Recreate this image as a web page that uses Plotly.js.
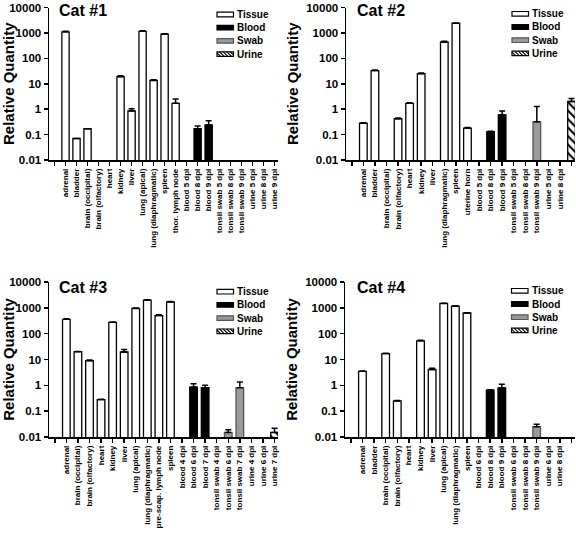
<!DOCTYPE html>
<html><head><meta charset="utf-8">
<script src="https://cdn.plot.ly/plotly-3.0.1.min.js"></script>
<style>html,body{margin:0;padding:0;background:#fff}</style>
</head><body><div id="chart" style="width:576px;height:542px"></div>
<script>
// ---------- DATA ----------
const cat1Labels = ['adrenal','bladder','brain (occipital)','brain (olfactory)','heart','kidney','liver','lung (apical)','lung (diaphragmatic)','spleen','thor. lymph node','blood 5 dpi','blood 8 dpi','blood 9 dpi','tonsil swab 5 dpi','tonsil swab 8 dpi','tonsil swab 9 dpi','urine 5 dpi','urine 8 dpi','urine 9 dpi'];
const cat1Tissue = [1100, 0.07, 0.17, null, null, 19, 0.85, 1150, 13.5, 900, 1.7];
const cat1TissueErr = [50, 0, 0, null, null, 1.5, 0.2, 80, 1, 30, 0.8];
const cat1Blood = [null, 0.17, 0.24];
const cat1BloodErr = [null, 0.05, 0.11];
const cat1Swab = [null, null, null];
const cat1SwabErr = [null, null, null];
const cat1Urine = [null, null, null];
const cat1UrineErr = [null, null, null];

const cat2Labels = ['adrenal','bladder','brain (occipital)','brain (olfactory)','heart','kidney','liver','lung (diaphragmatic)','spleen','uterine horn','blood 5 dpi','blood 8 dpi','blood 9 dpi','tonsil swab 5 dpi','tonsil swab 8 dpi','tonsil swab 9 dpi','urine 5 dpi','urine 8 dpi','urine 9 dpi'];
const cat2Tissue = [0.28, 33, null, 0.42, 1.7, 25, null, 440, 2400, 0.18];
const cat2TissueErr = [0.01, 2, null, 0.03, 0.08, 1.5, null, 30, 50, 0.01];
const cat2Blood = [null, 0.13, 0.6];
const cat2BloodErr = [null, 0.005, 0.25];
const cat2Swab = [null, null, 0.32];
const cat2SwabErr = [null, null, 0.95];
const cat2Urine = [null, null, 2.0];
const cat2UrineErr = [null, null, 0.6];

const cat3Labels = ['adrenal','brain (occipital)','brain (olfactory)','heart','kidney','liver','lung (apical)','lung (diaphragmatic)','pre-scap. lymph node','spleen','blood 4 dpi','blood 6 dpi','blood 7 dpi','tonsil swab 4 dpi','tonsil swab 6 dpi','tonsil swab 7 dpi','urine 4 dpi','urine 6 dpi','urine 7 dpi'];
const cat3Tissue = [360, 20, 9, 0.28, 275, 19.5, 950, 2000, 500, 1700];
const cat3TissueErr = [15, 0.5, 0.5, 0.01, 10, 5, 30, 50, 40, 40];
const cat3Blood = [null, 0.86, 0.81];
const cat3BloodErr = [null, 0.29, 0.2];
const cat3Swab = [null, 0.015, 0.81];
const cat3SwabErr = [null, 0.004, 0.53];
const cat3Urine = [null, null, 0.015];
const cat3UrineErr = [null, null, 0.007];

const cat4Labels = ['adrenal','bladder','brain (occipital)','brain (olfactory)','heart','kidney','liver','lung (apical)','lung (diaphragmatic)','spleen','blood 6 dpi','blood 8 dpi','blood 9 dpi','tonsil swab 6 dpi','tonsil swab 8 dpi','tonsil swab 9 dpi','urine 6 dpi','urine 8 dpi','urine 9 dpi'];
const cat4Tissue = [3.5, null, 17, 0.25, null, 53, 4.1, 1480, 1160, 630];
const cat4TissueErr = [0.1, null, 0.5, 0.01, null, 2, 0.5, 40, 40, 20];
const cat4Blood = [null, 0.65, 0.79];
const cat4BloodErr = [null, 0.02, 0.3];
const cat4Swab = [null, null, 0.025];
const cat4SwabErr = [null, null, 0.006];
const cat4Urine = [null, null, null];
const cat4UrineErr = [null, null, null];

const panelTitles = ['Cat #1', 'Cat #2', 'Cat #3', 'Cat #4'];
const seriesNames = ['Tissue', 'Blood', 'Swab', 'Urine'];
const yTickVals = [0.01, 0.1, 1, 10, 100, 1000, 10000];
const yTickText = ['0.01', '0.1', '1', '10', '100', '1000', '10000'];

// ---------- STYLE / LAYOUT ----------
const W = 576, H = 542;
const FONT = 'Arial, "Liberation Sans", Helvetica, sans-serif';
const panels = [
  {labels: cat1Labels, groups: [[cat1Tissue, cat1TissueErr],[cat1Blood, cat1BloodErr],[cat1Swab, cat1SwabErr],[cat1Urine, cat1UrineErr]],
   px: [49, 278], py: [7.5, 160], title: [83, 11], leg: [217, 14.5]},
  {labels: cat2Labels, groups: [[cat2Tissue, cat2TissueErr],[cat2Blood, cat2BloodErr],[cat2Swab, cat2SwabErr],[cat2Urine, cat2UrineErr]],
   px: [346, 575], py: [7.5, 160], title: [381, 11], leg: [512, 13.8]},
  {labels: cat3Labels, groups: [[cat3Tissue, cat3TissueErr],[cat3Blood, cat3BloodErr],[cat3Swab, cat3SwabErr],[cat3Urine, cat3UrineErr]],
   px: [49, 278], py: [282, 437], title: [83, 287], leg: [217, 291.7]},
  {labels: cat4Labels, groups: [[cat4Tissue, cat4TissueErr],[cat4Blood, cat4BloodErr],[cat4Swab, cat4SwabErr],[cat4Urine, cat4UrineErr]],
   px: [345, 575], py: [282, 437], title: [381, 287], leg: [511.5, 290.8]}
];

const fillColors = ['#ffffff', '#000000', '#9a9a9a', '#ffffff'];
const lineColors = ['#000000', '#000000', '#555555', '#000000'];
const markerStyles = fillColors.map((c, i) => {
  const m = {color: c, line: {color: lineColors[i], width: 1.3}};
  if (i === 3) m.pattern = {shape: '\\', fgcolor: '#000', bgcolor: '#fff', size: 6, solidity: 0.35, fillmode: 'replace'};
  return m;
});

const traces = [];
const layout = {
  width: W, height: H,
  margin: {l: 0, r: 0, t: 0, b: 0},
  paper_bgcolor: '#fff', plot_bgcolor: '#fff',
  barmode: 'overlay', showlegend: false,
  font: {family: FONT, color: '#000'},
  annotations: [], shapes: []
};
const fx = v => v / W, fy = v => 1 - v / H;

panels.forEach((p, i) => {
  const k = i + 1;
  const sfx = (k === 1 ? '' : String(k));
  const xa = 'x' + sfx, ya = 'y' + sfx;
  const n = p.labels.length;
  let offset = 0;
  p.groups.forEach((g, gi) => {
    const vals = g[0], errs = g[1];
    const xs = vals.map((_, j) => offset + j);
    offset += vals.length;
    traces.push({
      type: 'bar', name: seriesNames[gi],
      x: xs, y: vals,
      xaxis: xa, yaxis: ya,
      width: 0.66,
      marker: markerStyles[gi],
      error_y: {type: 'data', symmetric: false, array: errs, arrayminus: errs.map(() => 0),
                color: '#000', thickness: 1.5, width: 3},
      hoverinfo: 'x+y'
    });
  });
  const tickVals = [-1].concat(p.labels.map((_, j) => j));
  const tickText = [''].concat(p.labels);
  layout['xaxis' + sfx] = {
    domain: [fx(p.px[0]), fx(p.px[1])],
    anchor: ya,
    range: [-1.5, n - 1 + 0.3],
    tickmode: 'array', tickvals: tickVals, ticktext: tickText,
    tickangle: -90,
    ticks: 'outside', ticklen: 4, tickwidth: 1.5, tickcolor: '#000',
    showline: true, linecolor: '#000', linewidth: 1.5,
    showgrid: false, zeroline: false, automargin: false,
    tickfont: {family: FONT, size: 8, color: '#000', weight: 'bold'},
    fixedrange: true
  };
  layout['yaxis' + sfx] = {
    domain: [fy(p.py[1]), fy(p.py[0])],
    anchor: xa,
    type: 'log', range: [-2, 4],
    tickmode: 'array', tickvals: yTickVals, ticktext: yTickText,
    ticks: 'outside', ticklen: 4, tickwidth: 1.5, tickcolor: '#000',
    ticklabeloverflow: 'allow',
    showline: true, linecolor: '#000', linewidth: 1.5,
    showgrid: false, zeroline: false, automargin: false,
    tickfont: {family: FONT, size: 11.5, color: '#000', weight: 'bold'},
    title: {text: 'Relative Quantity', font: {family: FONT, size: 15, color: '#000', weight: 'bold'}, standoff: 4},
    fixedrange: true
  };
  layout.annotations.push({
    xref: 'paper', yref: 'paper', x: fx(p.title[0]), y: fy(p.title[1]),
    xanchor: 'center', yanchor: 'middle', showarrow: false,
    text: panelTitles[i], font: {family: FONT, size: 16, color: '#000', weight: 'bold'}
  });
  // legend (swatch + label) per panel
  const sw = 16.5, sh = 4.6, rowGap = 13.2;
  seriesNames.forEach((name, si) => {
    const cy = p.leg[1] + si * rowGap;
    const x0 = p.leg[0], x1 = p.leg[0] + sw, y0 = cy - sh / 2, y1 = cy + sh / 2;
    layout.shapes.push({
      type: 'rect', xref: 'paper', yref: 'paper',
      x0: fx(x0), x1: fx(x1), y0: fy(y1), y1: fy(y0),
      fillcolor: fillColors[si], line: {color: si === 2 ? '#555' : '#000', width: 1.2}
    });
    if (si === 3) {
      let d = '';
      for (let s = -sh; s < sw; s += 3.6) {
        let ax = x0 + s, ay = y0, bx = x0 + s + sh, by = y1;
        if (ax < x0) { ay = y0 + (x0 - ax); ax = x0; }
        if (bx > x1) { by = y1 - (bx - x1); bx = x1; }
        if (bx <= ax) continue;
        d += `M${fx(ax)},${fy(ay)}L${fx(bx)},${fy(by)}`;
      }
      layout.shapes.push({type: 'path', xref: 'paper', yref: 'paper', path: d, line: {color: '#000', width: 1.1}});
    }
    layout.annotations.push({
      xref: 'paper', yref: 'paper', x: fx(x1 + 1.5), y: fy(cy),
      xanchor: 'left', yanchor: 'middle', showarrow: false,
      text: name, font: {family: FONT, size: 10, color: '#000', weight: 'bold'}
    });
  });
});

Plotly.newPlot('chart', traces, layout, {displayModeBar: false, staticPlot: true});
</script>
</body></html>
